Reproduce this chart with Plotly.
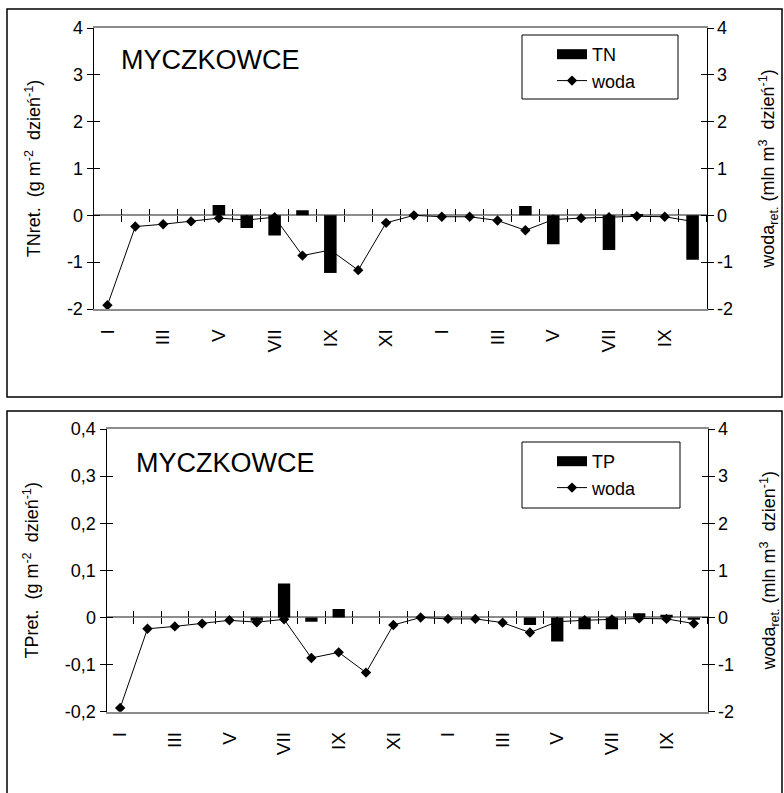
import plotly.graph_objects as go

# ---------------- data ----------------
months = ["I", "II", "III", "IV", "V", "VI", "VII", "VIII", "IX", "X", "XI", "XII",
          "I", "II", "III", "IV", "V", "VI", "VII", "VIII", "IX", "X"]
woda = [-1.92, -0.24, -0.19, -0.13, -0.06, -0.10, -0.04, -0.86, -0.74, -1.17, -0.16,
        0.00, -0.03, -0.03, -0.11, -0.32, -0.09, -0.06, -0.04, -0.02, -0.03, -0.13]
tn = [0, 0, 0, 0, 0.22, -0.27, -0.43, 0.11, -1.23, 0, 0,
      0, 0, 0, 0, 0.20, -0.62, 0, -0.74, 0.02, 0, -0.95]
tp = [0, 0, 0, 0, 0, -0.007, 0.072, -0.009, 0.018, 0, 0,
      0, 0, 0, 0, -0.016, -0.051, -0.025, -0.025, 0.009, 0.006, -0.005]

tn_ticks = [-2, -1, 0, 1, 2, 3, 4]
tn_ticktext = ["-2", "-1", "0", "1", "2", "3", "4"]
tp_ticks = [-0.2, -0.1, 0, 0.1, 0.2, 0.3, 0.4]
tp_ticktext = ["-0,2", "-0,1", "0", "0,1", "0,2", "0,3", "0,4"]
woda_ticks = [-2, -1, 0, 1, 2, 3, 4]
woda_ticktext = ["-2", "-1", "0", "1", "2", "3", "4"]

x_idx = list(range(len(months)))
boundaries = [i - 0.5 for i in range(len(months) + 1)]

W, H = 784, 793
FONT = "Liberation Sans, Arial, sans-serif"


def fx(px):
    return px / W


def fy(px):
    return 1 - px / H


panels = [
    dict(box=(93.5, 28, 706.5, 309), series=tn, name="TN", yrange=[-2, 4],
         lticks=tn_ticks, ltext=tn_ticktext,
         ltitle="TNret.  (g m<sup>-2</sup>  dzień<sup>-1</sup>)",
         rtitle="woda<sub>ret.</sub> (mln m<sup>3</sup>  dzień<sup>-1</sup>)",
         frame=(7, 9, 782, 397), label_xy=(119, 60),
         legend_box=(522, 35, 678, 99)),
    dict(box=(106.5, 429, 707.5, 711.7), series=tp, name="TP", yrange=[-0.2, 0.4],
         lticks=tp_ticks, ltext=tp_ticktext,
         ltitle="TPret.  (g m<sup>-2</sup>  dzień<sup>-1</sup>)",
         rtitle="woda<sub>ret.</sub> (mln m<sup>3</sup>  dzien<sup>-1</sup>)",
         frame=(7, 411, 782, 805), label_xy=(134, 463),
         legend_box=(522, 442, 680, 508)),
]

fig = go.Figure()
layout = dict(
    width=W, height=H, margin=dict(l=0, r=0, t=0, b=0, autoexpand=False),
    paper_bgcolor="white", plot_bgcolor="white",
    font=dict(family=FONT, size=17, color="black"),
    showlegend=True, shapes=[], annotations=[],
)

xr = [-0.5, len(months) - 0.5]
wr = [-2, 4]


def xn(n):
    return "xaxis" if n == 1 else f"xaxis{n}"


def yn(n):
    return "yaxis" if n == 1 else f"yaxis{n}"


def xr_(n):
    return "x" if n == 1 else f"x{n}"


def yr_(n):
    return "y" if n == 1 else f"y{n}"


def helper(xa, ya):
    # empty trace so that a helper axis pair gets drawn
    fig.add_trace(go.Scatter(x=[None], y=[None], xaxis=xa, yaxis=ya, mode="lines",
                             showlegend=False, hoverinfo="skip"))


for p_i, p in enumerate(panels):
    a = 3 * p_i + 1   # x axes a, a+1, a+2
    b = 4 * p_i + 1   # y axes b..b+3
    x0, y0, x1, y1 = p["box"]
    xdom = [fx(x0), fx(x1)]
    ydom = [fy(y1), fy(y0)]
    zero_pos = ydom[0] + (0 - wr[0]) / (wr[1] - wr[0]) * (ydom[1] - ydom[0])

    # main x axis (labels at bottom, gray frame lines top & bottom)
    layout[xn(a)] = dict(domain=xdom, range=xr, anchor=yr_(b), tickmode="array",
                         tickvals=x_idx[::2], ticktext=months[::2], tickangle=-90,
                         ticks="", ticklabelstandoff=11, showgrid=False, zeroline=False,
                         showline=True, linecolor="#8c8c8c", linewidth=1.5, mirror=True,
                         tickfont=dict(size=19), automargin=False)
    # zero-line crossing ticks
    for n, side in ((a + 1, "outside"), (a + 2, "inside")):
        layout[xn(n)] = dict(overlaying=xr_(a), anchor="free", position=zero_pos,
                             range=xr, tickmode="array", tickvals=boundaries,
                             ticks=side, ticklen=6, tickcolor="black", tickwidth=1,
                             showticklabels=False, showgrid=False, zeroline=False,
                             showline=False, automargin=False)
        helper(xr_(n), yr_(b))
    # right axis (woda) - base axis
    layout[yn(b)] = dict(domain=ydom, range=wr, anchor=xr_(a), side="right",
                         tickmode="array", tickvals=woda_ticks, ticktext=woda_ticktext,
                         ticks="outside", ticklen=6, tickcolor="black",
                         showline=True, linecolor="black", linewidth=1,
                         showgrid=False, zeroline=True, zerolinecolor="#8c8c8c",
                         zerolinewidth=2, tickfont=dict(size=18), automargin=False,
                         title=dict(text=p["rtitle"], font=dict(size=18), standoff=29))
    layout[yn(b + 1)] = dict(overlaying=yr_(b), anchor=xr_(a), side="right", range=wr,
                             tickmode="array", tickvals=woda_ticks, ticks="inside",
                             ticklen=6, tickcolor="black", showticklabels=False,
                             showgrid=False, zeroline=False, showline=False,
                             automargin=False)
    helper(xr_(a), yr_(b + 1))
    # left axis (TN / TP)
    layout[yn(b + 2)] = dict(overlaying=yr_(b), anchor=xr_(a), side="left",
                             range=p["yrange"], tickmode="array", tickvals=p["lticks"],
                             ticktext=p["ltext"], ticks="outside", ticklen=6,
                             tickcolor="black", showline=True, linecolor="black",
                             linewidth=1, showgrid=False, zeroline=False,
                             tickfont=dict(size=18), automargin=False,
                             title=dict(text=p["ltitle"], font=dict(size=18), standoff=21))
    layout[yn(b + 3)] = dict(overlaying=yr_(b), anchor=xr_(a), side="left",
                             range=p["yrange"], tickmode="array", tickvals=p["lticks"],
                             ticks="inside", ticklen=6, tickcolor="black",
                             showticklabels=False, showgrid=False, zeroline=False,
                             showline=False, automargin=False)
    helper(xr_(a), yr_(b + 3))

    leg = "legend" if p_i == 0 else "legend2"
    # woda line (drawn beneath bars)
    fig.add_trace(go.Scatter(x=x_idx, y=woda, xaxis=xr_(a), yaxis=yr_(b), mode="lines+markers",
                             line=dict(color="black", width=1),
                             marker=dict(symbol="diamond", size=8, color="black"),
                             name="woda", legend=leg, legendgroup=f"w{p_i}",
                             legendrank=2, showlegend=True))
    # bars
    fig.add_trace(go.Bar(x=x_idx, y=p["series"], xaxis=xr_(a), yaxis=yr_(b + 2),
                         width=0.45, marker=dict(color="black", line=dict(width=0)),
                         name=p["name"], showlegend=False))
    # legend entry for the bars (wide black block)
    fig.add_trace(go.Scatter(x=[None], y=[None], xaxis=xr_(a), yaxis=yr_(b + 2), mode="lines",
                             line=dict(color="black", width=15), name=p["name"],
                             legend=leg, legendgroup=f"b{p_i}", legendrank=1,
                             showlegend=True))

    lx0, ly0, lx1, ly1 = p["legend_box"]
    layout[leg] = dict(x=fx(lx0), y=fy(ly0 + 1), xanchor="left", yanchor="top",
                       borderwidth=0, bgcolor="rgba(0,0,0,0)",
                       font=dict(size=18), traceorder="grouped", indentation=30,
                       tracegroupgap=0)
    # legend frame
    layout["shapes"].append(dict(type="rect", xref="paper", yref="paper",
                                 x0=fx(lx0), x1=fx(lx1), y0=fy(ly1), y1=fy(ly0),
                                 line=dict(color="black", width=1), fillcolor="white",
                                 layer="below"))

    fx0, fy0, fx1, fy1 = p["frame"]
    layout["shapes"].append(dict(type="rect", xref="paper", yref="paper",
                                 x0=fx(fx0), x1=fx(fx1), y0=fy(fy1), y1=fy(fy0),
                                 line=dict(color="black", width=1.5), layer="below"))
    tx, ty = p["label_xy"]
    layout["annotations"].append(dict(text="MYCZKOWCE", xref="paper", yref="paper",
                                      x=fx(tx), y=fy(ty), xanchor="left", yanchor="middle",
                                      showarrow=False, font=dict(size=27, family=FONT)))

fig.update_layout(**layout)
fig.write_html("out.html")
